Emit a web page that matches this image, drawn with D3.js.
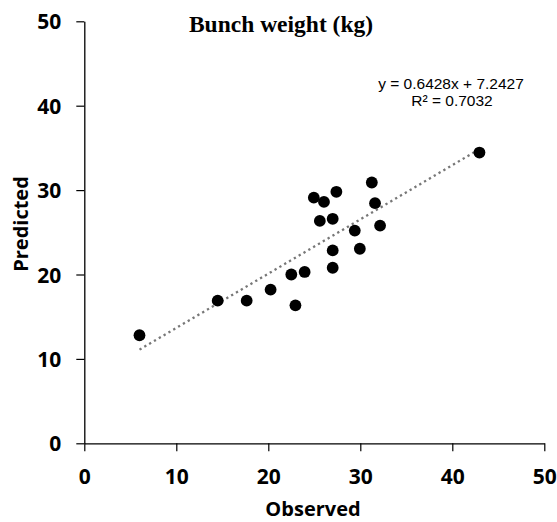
<!DOCTYPE html>
<html>
<head>
<meta charset="utf-8">
<script src="https://cdn.jsdelivr.net/npm/d3@7"></script>
<style>
  html, body { margin: 0; padding: 0; background: #fff; }
  svg { display: block; }
</style>
</head>
<body>
<svg id="chart" width="557" height="522"></svg>
<script>
// ---- data ----
const observed  = [6.0, 14.5, 17.65, 20.25, 22.5, 22.95, 23.95, 24.95, 26.05, 27.4, 25.6, 27.0, 27.0, 27.0, 29.4, 29.95, 31.25, 31.6, 32.15, 42.95];
const predicted = [12.8, 16.9, 16.9, 18.2, 20.0, 16.35, 20.3, 29.1, 28.6, 29.8, 26.35, 26.6, 22.85, 20.8, 25.2, 23.05, 30.9, 28.45, 25.8, 34.45];
const xTicks = [0, 10, 20, 30, 40, 50];
const yTicks = [0, 10, 20, 30, 40, 50];
const trendSlope = 0.6428;
const trendIntercept = 7.2427;
const rSquared = "0.7032";
const titleText = "Bunch weight (kg)";
const xLabel = "Observed";
const yLabel = "Predicted";

// ---- layout ----
const svg = d3.select("#chart");
const x = d3.scaleLinear().domain([0, 50]).range([84.3, 544.3]);
const y = d3.scaleLinear().domain([0, 50]).range([443.3, 21.3]);
const tickFont = "'Open Sans', sans-serif";
const eqFont = "'Liberation Sans', Arial, sans-serif";

// x axis
const gx = svg.append("g").attr("transform", `translate(0,${y(0)})`)
  .call(d3.axisBottom(x).tickValues(xTicks).tickSize(8).tickSizeOuter(0).tickFormat(d3.format("d")));
gx.select(".domain").attr("stroke", "#000").attr("stroke-width", 1.3);
gx.selectAll(".tick line").attr("stroke", "#000").attr("stroke-width", 1.2);
gx.selectAll(".tick text")
  .attr("y", 484 - y(0)).attr("dy", null)
  .attr("font-family", tickFont).attr("font-weight", "bold").attr("font-size", 21).attr("fill", "#000");

// y axis
const gy = svg.append("g").attr("transform", `translate(${x(0)},0)`)
  .call(d3.axisLeft(y).tickValues(yTicks).tickSize(8).tickSizeOuter(0).tickPadding(15).tickFormat(d3.format("d")));
gy.select(".domain").attr("stroke", "#000").attr("stroke-width", 1.3);
gy.selectAll(".tick line").attr("stroke", "#000").attr("stroke-width", 1.2);
gy.selectAll(".tick text")
  .attr("dy", "0.36em")
  .attr("font-family", tickFont).attr("font-weight", "bold").attr("font-size", 21).attr("fill", "#000");

// trend line
const xMin = d3.min(observed), xMax = d3.max(observed);
svg.append("line")
  .attr("x1", x(xMin)).attr("y1", y(trendSlope * xMin + trendIntercept))
  .attr("x2", x(xMax)).attr("y2", y(trendSlope * xMax + trendIntercept))
  .attr("stroke", "#777").attr("stroke-width", 2.3)
  .attr("stroke-dasharray", "2.3,3.3");

// points
svg.append("g").selectAll("circle")
  .data(observed.map((v, i) => [v, predicted[i]]))
  .join("circle")
  .attr("cx", d => x(d[0])).attr("cy", d => y(d[1]))
  .attr("r", 5.9).attr("fill", "#000");

// title
svg.append("text").attr("x", 281).attr("y", 32)
  .attr("text-anchor", "middle")
  .attr("font-family", "'Liberation Serif', 'Times New Roman', serif")
  .attr("font-weight", "bold").attr("font-size", 23.5).attr("fill", "#000")
  .text(titleText);

// equation
svg.append("text").attr("x", 451).attr("y", 88.5)
  .attr("text-anchor", "middle")
  .attr("font-family", eqFont).attr("font-size", 15.5).attr("fill", "#000")
  .text(`y = ${trendSlope}x + ${trendIntercept}`);
svg.append("text").attr("x", 452).attr("y", 106)
  .attr("text-anchor", "middle")
  .attr("font-family", eqFont).attr("font-size", 15.5).attr("fill", "#000")
  .text(`R² = ${rSquared}`);

// axis labels
svg.append("text").attr("x", 313).attr("y", 516)
  .attr("text-anchor", "middle")
  .attr("font-family", tickFont).attr("font-weight", "bold").attr("font-size", 20).attr("fill", "#000")
  .text(xLabel);
svg.append("text").attr("transform", "translate(28,224) rotate(-90)")
  .attr("text-anchor", "middle")
  .attr("font-family", tickFont).attr("font-weight", "bold").attr("font-size", 20).attr("fill", "#000")
  .text(yLabel);
</script>
</body>
</html>
